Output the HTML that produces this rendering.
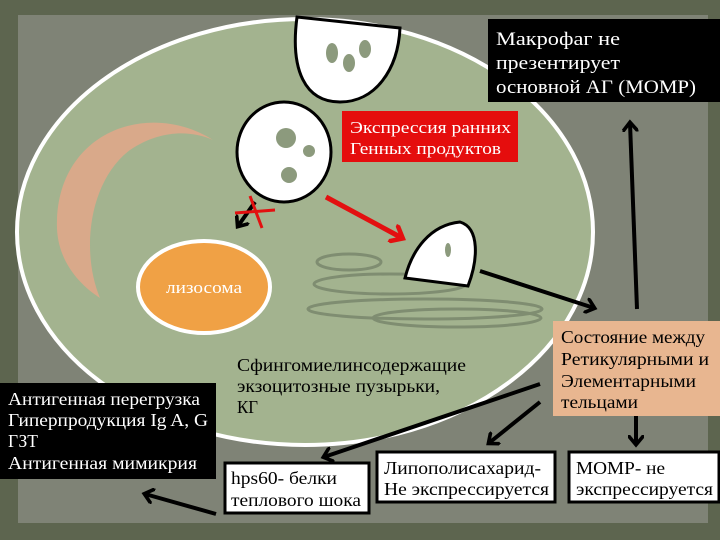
<!DOCTYPE html>
<html><head><meta charset="utf-8"><style>
body{margin:0;width:720px;height:540px;overflow:hidden;background:#5d654f;}
svg{display:block}
text{font-family:"Liberation Serif",serif;}
</style></head><body>
<svg width="720" height="540" viewBox="0 0 720 540" xmlns="http://www.w3.org/2000/svg">
<defs>
<marker id="ab" markerWidth="4" markerHeight="4" refX="2.2" refY="2" orient="auto" markerUnits="strokeWidth"><path d="M0,0 L2.4,2 L0,4" fill="none" stroke="#000" stroke-width="0.9"/></marker>
<marker id="ar" markerWidth="4" markerHeight="4" refX="2.2" refY="2" orient="auto" markerUnits="strokeWidth"><path d="M0,0 L2.4,2 L0,4" fill="none" stroke="#e31010" stroke-width="0.9"/></marker>
</defs>
<rect width="720" height="540" fill="#5d654f"/>
<rect x="18" y="15" width="690" height="508" fill="#7f8376"/>
<ellipse cx="305" cy="232" rx="288" ry="213" fill="#a3b38f" stroke="#fff" stroke-width="4"/>
<path d="M213,140 C150,100 60,130 57,220 C55,260 80,285 100,298 C80,250 90,180 130,150 C160,130 190,130 213,140Z" fill="#d9a98a"/>
<ellipse cx="349" cy="262" rx="32" ry="8" fill="none" stroke="#7f8d71" stroke-width="3"/>
<ellipse cx="390" cy="284" rx="76" ry="10" fill="none" stroke="#7f8d71" stroke-width="3"/>
<ellipse cx="425" cy="309" rx="117" ry="10" fill="none" stroke="#7f8d71" stroke-width="3"/>
<ellipse cx="457" cy="318" rx="84" ry="9" fill="none" stroke="#7f8d71" stroke-width="3"/>
<ellipse cx="204" cy="287" rx="66" ry="46" fill="#f0a145" stroke="#fff" stroke-width="4"/>
<text x="166" y="293" font-size="17" fill="#fff" textLength="76" lengthAdjust="spacingAndGlyphs">лизосома</text>
<path d="M297,17 L400,28 C398,70 375,102 340,102 C305,102 290,70 297,17Z" fill="#fff" stroke="#000" stroke-width="3"/>
<ellipse cx="332" cy="53" rx="6" ry="10" fill="#8c9a7d"/>
<ellipse cx="349" cy="63" rx="6" ry="9" fill="#8c9a7d"/>
<ellipse cx="365" cy="49" rx="6" ry="9" fill="#8c9a7d"/>
<ellipse cx="284" cy="152" rx="47" ry="50" fill="#fff" stroke="#000" stroke-width="3"/>
<circle cx="286" cy="138" r="10" fill="#8c9a7d"/>
<circle cx="309" cy="151" r="6" fill="#8c9a7d"/>
<circle cx="289" cy="175" r="8" fill="#8c9a7d"/>
<path d="M405,278 C412,250 430,225 460,222 C480,228 478,260 468,286 Z" fill="#fff" stroke="#000" stroke-width="3"/>
<ellipse cx="448" cy="250" rx="3" ry="7" fill="#8c9a7d"/>
<line x1="255" y1="202" x2="238" y2="226" stroke="#000" stroke-width="4" marker-end="url(#ab)"/>
<line x1="250" y1="196" x2="262" y2="228" stroke="#e31010" stroke-width="3"/>
<line x1="235" y1="213" x2="275" y2="210" stroke="#e31010" stroke-width="3"/>
<line x1="326" y1="197" x2="402" y2="238" stroke="#e31010" stroke-width="5" marker-end="url(#ar)"/>
<line x1="480" y1="271" x2="594" y2="308" stroke="#000" stroke-width="4" marker-end="url(#ab)"/>
<line x1="637" y1="309" x2="630" y2="123" stroke="#000" stroke-width="4" marker-end="url(#ab)"/>
<line x1="636" y1="416" x2="636" y2="444" stroke="#000" stroke-width="4" marker-end="url(#ab)"/>
<line x1="540" y1="402" x2="489" y2="443" stroke="#000" stroke-width="4" marker-end="url(#ab)"/>
<line x1="540" y1="384" x2="324" y2="457" stroke="#000" stroke-width="4" marker-end="url(#ab)"/>
<line x1="216" y1="514" x2="145" y2="494" stroke="#000" stroke-width="4" marker-end="url(#ab)"/>
<rect x="488" y="19" width="232" height="83" fill="#000"/>
<g font-size="19" fill="#fff">
<text x="496" y="45" textLength="124" lengthAdjust="spacingAndGlyphs">Макрофаг  не</text>
<text x="496" y="69" textLength="124" lengthAdjust="spacingAndGlyphs">презентирует</text>
<text x="496" y="93" textLength="200" lengthAdjust="spacingAndGlyphs">основной АГ (МОМР)</text>
</g>
<rect x="342" y="111" width="176" height="51" fill="#e50d0d"/>
<g font-size="17" fill="#fff">
<text x="350" y="133" textLength="161" lengthAdjust="spacingAndGlyphs">Экспрессия ранних</text>
<text x="350" y="154" textLength="151" lengthAdjust="spacingAndGlyphs">Генных продуктов</text>
</g>
<rect x="553" y="321" width="167" height="95" fill="#e8b690"/>
<g font-size="18" fill="#000">
<text x="561" y="343" textLength="144" lengthAdjust="spacingAndGlyphs">Состояние между</text>
<text x="561" y="365" textLength="148" lengthAdjust="spacingAndGlyphs">Ретикулярными и</text>
<text x="561" y="387" textLength="135" lengthAdjust="spacingAndGlyphs">Элементарными</text>
<text x="561" y="408" textLength="77" lengthAdjust="spacingAndGlyphs">тельцами</text>
</g>
<g font-size="18" fill="#000">
<text x="237" y="371" textLength="229" lengthAdjust="spacingAndGlyphs">Сфингомиелинсодержащие</text>
<text x="237" y="392" textLength="203" lengthAdjust="spacingAndGlyphs">экзоцитозные пузырьки,</text>
<text x="237" y="413" textLength="21" lengthAdjust="spacingAndGlyphs">КГ</text>
</g>
<rect x="0" y="383" width="216" height="96" fill="#000"/>
<g font-size="18" fill="#fff">
<text x="8" y="405" textLength="192" lengthAdjust="spacingAndGlyphs">Антигенная перегрузка</text>
<text x="8" y="426" textLength="200" lengthAdjust="spacingAndGlyphs">Гиперпродукция  Ig A, G</text>
<text x="8" y="447" textLength="30" lengthAdjust="spacingAndGlyphs">ГЗТ</text>
<text x="8" y="469" textLength="189" lengthAdjust="spacingAndGlyphs">Антигенная мимикрия</text>
</g>
<rect x="225" y="463" width="144" height="50" fill="#fff" stroke="#000" stroke-width="3"/>
<g font-size="18" fill="#000">
<text x="231" y="484" textLength="106" lengthAdjust="spacingAndGlyphs">hps60- белки</text>
<text x="231" y="506" textLength="130" lengthAdjust="spacingAndGlyphs">теплового шока</text>
</g>
<rect x="377" y="452" width="178" height="50" fill="#fff" stroke="#000" stroke-width="3"/>
<g font-size="18" fill="#000">
<text x="384" y="474" textLength="157" lengthAdjust="spacingAndGlyphs">Липополисахарид-</text>
<text x="384" y="495" textLength="165" lengthAdjust="spacingAndGlyphs">Не экспрессируется</text>
</g>
<rect x="569" y="452" width="150" height="50" fill="#fff" stroke="#000" stroke-width="3"/>
<g font-size="18" fill="#000">
<text x="576" y="474" textLength="89" lengthAdjust="spacingAndGlyphs">МОМР- не</text>
<text x="576" y="495" textLength="137" lengthAdjust="spacingAndGlyphs">экспрессируется</text>
</g>
</svg>
</body></html>
